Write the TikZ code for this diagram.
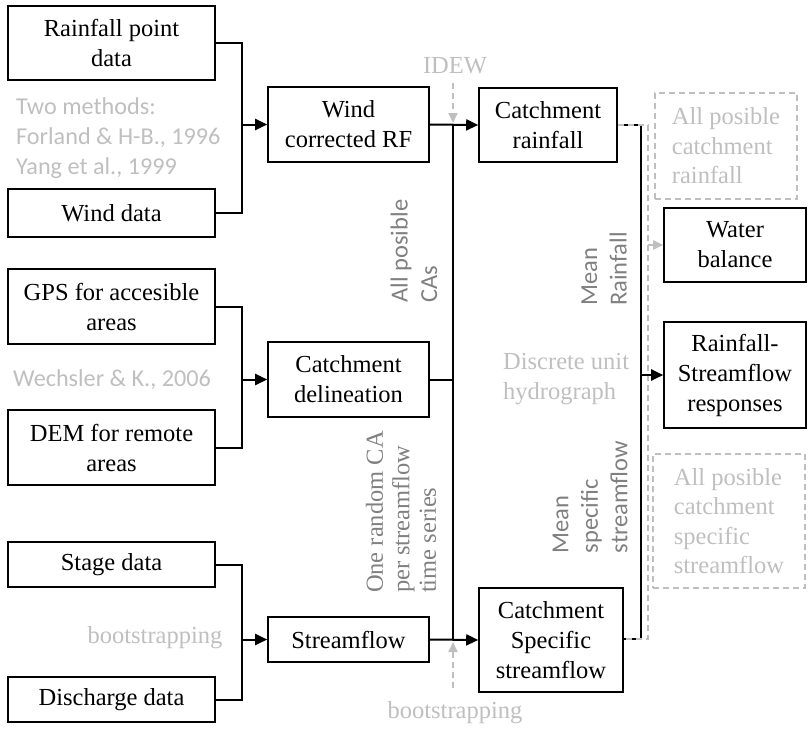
\documentclass[tikz,border=0pt]{standalone}
\usepackage{fontspec}
\setmainfont{Liberation Serif}
\newfontfamily\labsans{Carlito}
\usetikzlibrary{arrows.meta}
\definecolor{lgray}{RGB}{191,191,191}
\definecolor{mgray}{RGB}{128,128,128}
\begin{document}
\begin{tikzpicture}[x=1pt,y=-1pt,
  box/.style={draw=black,line width=1.6pt,rectangle,inner sep=0pt,align=center,
    font=\fontsize{24.5}{30}\selectfont},
  dbox/.style={draw=lgray,dash pattern=on 6pt off 4pt,line width=1.5pt,rectangle,inner sep=0pt,align=left,
    text=lgray,font=\fontsize{24.5}{29.5}\selectfont},
  conn/.style={line width=2pt,black},
  arr/.style={conn,-{Triangle[length=12pt,width=11pt]}},
  garr/.style={line width=1.8pt,lgray,dash pattern=on 6pt off 4pt,-{Triangle[length=10pt,width=9pt]}},
  gline/.style={line width=1.5pt,lgray,dash pattern=on 6pt off 4pt},
  slab/.style={text=lgray,align=left,inner sep=0pt,font=\labsans\fontsize{24.2}{30}\selectfont},
  rlab/.style={text=lgray,align=left,inner sep=0pt,font=\fontsize{24.5}{29.5}\selectfont},
  vsans/.style={text=mgray,align=left,inner sep=0pt,rotate=90,font=\labsans\fontsize{24.5}{29.5}\selectfont},
  vser/.style={text=mgray,align=left,inner sep=0pt,rotate=90,font=\fontsize{24.5}{26.5}\selectfont}
]
\useasboundingbox (0,0) rectangle (808,729);
% boxes
\node[box,minimum width=207,minimum height=74] (rpd) at (111.5,43) {Rainfall point\\data};
\node[box,minimum width=207,minimum height=48] (wind) at (111.5,213) {Wind data};
\node[box,minimum width=161,minimum height=75] (wcrf) at (348.5,124.5) {Wind\\corrected RF};
\node[box,minimum width=138,minimum height=74] (crain) at (548,125) {Catchment\\rainfall};
\node[box,minimum width=207,minimum height=75] (gps) at (111.5,306.5) {GPS for accesible\\areas};
\node[box,minimum width=207,minimum height=75] (dem) at (111.5,447.5) {DEM for remote\\areas};
\node[box,minimum width=161,minimum height=75] (cdel) at (348.5,379.5) {Catchment\\delineation};
\node[box,minimum width=207,minimum height=45] (stage) at (111.5,564.5) {Stage data};
\node[box,minimum width=207,minimum height=45] (disch) at (111.5,699.5) {Discharge data};
\node[box,minimum width=161,minimum height=45] (sflow) at (348.5,639.5) {Streamflow};
\node[box,minimum width=144,minimum height=104] (css) at (551,640) {Catchment\\Specific\\streamflow};
\node[box,minimum width=142,minimum height=74] (wb) at (735,245) {Water\\balance};
\node[box,minimum width=142,minimum height=106] (rsr) at (735,375) {Rainfall-\\Streamflow\\responses};
\node[dbox,minimum width=142,minimum height=106] (apcr) at (726,146) {All posible\\catchment\\rainfall};
\node[dbox,minimum width=152,minimum height=134] (apcs) at (729,521) {All posible\\catchment\\specific\\streamflow};
% labels
\node[slab,anchor=west] (two) at (16,138) {Two methods:\\Forland \& H-B., 1996\\Yang et al., 1999};
\node[slab] (wech) at (112,380) {Wechsler \& K., 2006};
\node[rlab] (boot1) at (155,638) {bootstrapping};
\node[rlab] (idew) at (455,66) {IDEW};
\node[rlab] (boot2) at (455,713) {bootstrapping};
\node[rlab,anchor=west] (dis) at (503,379) {Discrete unit\\hydrograph};
\node[vsans] (apca) at (414,251) {All posible\\CAs};
\node[vsans] (mr) at (604,269) {Mean\\Rainfall};
\node[vsans] (mss) at (590,497) {Mean\\specific\\streamflow};
\node[vser] (orc) at (401,512) {One random CA\\per streamflow\\time series};
% coordinates
\coordinate (j1) at (242,124.5);
\coordinate (j2) at (242,379.5);
\coordinate (j3) at (242,639.5);
\coordinate (v1) at (453,125);
\coordinate (v2) at (453,640);
\coordinate (r1) at (641,125);
\coordinate (r2) at (641,639);
\coordinate (g1) at (648,125);
\coordinate (g2) at (648,639);
\coordinate (idewtop) at (453,83);
\coordinate (boottop) at (453,688);
% left joins
\draw[conn] (rpd.east) -| (j1) |- (wind.east);
\draw[arr] (j1) -- (wcrf.west);
\draw[conn] (gps.east) -| (j2) |- (dem.east);
\draw[arr] (j2) -- (cdel.west);
\draw[conn] (stage.east) -| (j3) |- (disch.east);
\draw[arr] (j3) -- (sflow.west);
% middle
\draw[arr] (wcrf.east) -- (crain.west);
\draw[conn] (v1) -- (v2);
\draw[conn] (cdel.east) -- (cdel.east -| v1);
\draw[arr] (sflow.east) -- (css.west);
\draw[garr] (idewtop) -- (453,123);
\draw[garr] (boottop) -- (453,642);
% right
\draw[conn] (crain.east) -- (r1) -- (r2) -- (css.east |- r2);
\draw[gline] (crain.east) -- (g1) -- (g2) -- (css.east |- g2);
\draw[garr,solid] (648,245) -- (wb.west);
\draw[arr] (641,375) -- (rsr.west);
\end{tikzpicture}
\end{document}
